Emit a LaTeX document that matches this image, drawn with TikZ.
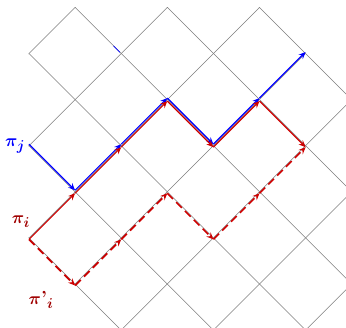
\documentclass[tikz,border=0pt]{standalone}
\usepackage{amsmath}
\usetikzlibrary{arrows.meta}
\definecolor{gridgray}{RGB}{125,125,125}
\definecolor{pathred}{RGB}{205,0,0}
\definecolor{labelred}{RGB}{160,0,0}
\definecolor{pathblue}{RGB}{0,0,255}
\begin{document}
\begin{tikzpicture}[x=1pt,y=-1pt,
  gridline/.style={draw=gridgray,line width=0.55pt},
  bluepath/.style={draw=pathblue,line width=1.2pt,-{Stealth[length=7pt,width=6pt,inset=2.5pt]}},
  redpath/.style={draw=pathred,line width=1.2pt,-{Stealth[length=7pt,width=6pt,inset=2.5pt]}},
  reddash/.style={redpath,line width=1.7pt,dash pattern=on 8pt off 4.5pt},
  lab/.style={inner sep=0pt,font=\fontsize{19}{19}\selectfont\boldmath}]
\useasboundingbox (0,0) rectangle (346,328);
\def\ox{29}\def\oy{7.4}\def\st{46.1}
\begin{scope}
\clip (\ox-0.3,\oy-0.3) rectangle (346,328);
\foreach \u in {1,3,...,15}{
  \pgfmathsetmacro\ia{(\u-5)/2}
  \pgfmathsetmacro\ib{(\u+5)/2}
  \draw[gridline] ({\ox+\st*\ia},{\oy+\st*(\u-\ia)}) -- ({\ox+\st*\ib},{\oy+\st*(\u-\ib)});
}
\foreach \v in {-5,-3,...,5}{
  \pgfmathsetmacro\ia{(1+\v)/2}
  \pgfmathsetmacro\ib{(15+\v)/2}
  \draw[gridline] ({\ox+\st*\ia},{\oy+\st*(\ia-\v)}) -- ({\ox+\st*\ib},{\oy+\st*(\ib-\v)});
}
\end{scope}
\foreach \i/\j in {0/3,1/4,2/3,3/2,4/3,5/2,6/1,0/5,6/3,1/6,2/5,3/4,4/5,5/4}
  \coordinate (v\i\j) at ({\ox+\st*\i},{\oy+\st*\j});
% blue path pi_j
\foreach \a/\b in {v03/v14,v14/v23,v23/v32,v32/v43,v43/v52,v52/v61}
  \draw[bluepath] ([yshift=1.5pt]\a) -- ([yshift=1.5pt]\b);
% red path pi_i
\foreach \a/\b in {v05/v14,v14/v23,v23/v32,v32/v43,v43/v52,v52/v63}
  \draw[redpath] ([yshift=-1.5pt]\a) -- ([yshift=-1.5pt]\b);
% red dashed path pi'_i
\foreach \a/\b in {v05/v16,v16/v25,v25/v34,v34/v45,v45/v54,v54/v63}
  \draw[reddash] ([yshift=-1.5pt]\a) -- ([yshift=-1.5pt]\b);
% small blue mark
\coordinate (bm1) at (113.5,46);
\coordinate (bm2) at (120,52.5);
\draw[pathblue,line width=0.7pt] (bm1) -- (bm2);
% labels
\node[lab,text=pathblue] (pij) at (15,146) {$\pi_j$};
\node[lab,text=labelred] (pii) at (21,222) {$\pi_i$};
\node[lab,text=labelred] (piip) at (41,300) {$\pi\mbox{\bfseries'}_i$};
\end{tikzpicture}
\end{document}
